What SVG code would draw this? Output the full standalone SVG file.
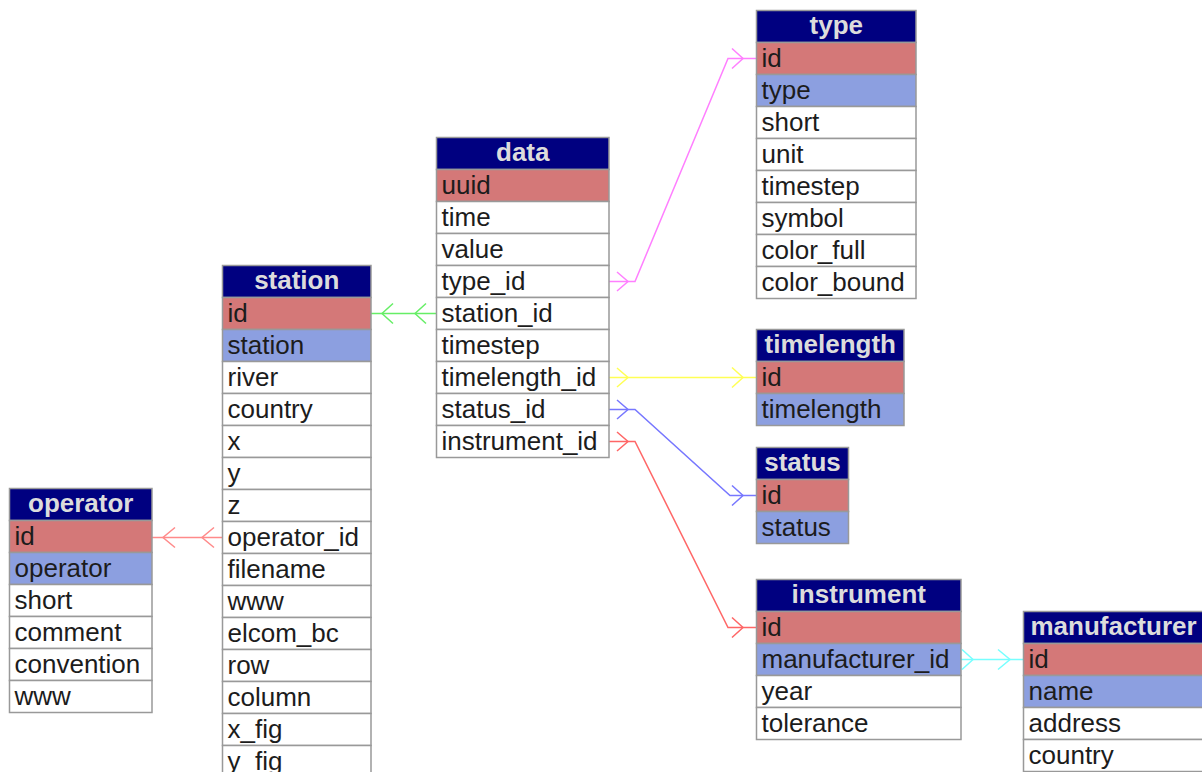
<svg xmlns="http://www.w3.org/2000/svg" width="1202" height="772" viewBox="0 0 1202 772">
<style>
rect{stroke:#999;stroke-width:1.5}
.hd{fill:#000080}
.pk{fill:#d47878}
.uk{fill:#8c9fe0}
.rw{fill:#ffffff}
text{font-family:"Liberation Sans",Arial,Helvetica,sans-serif;font-size:26px}
.ht{font-weight:bold;fill:#dcdcdc;text-anchor:middle}
.t{fill:#1c1c1c}
.c{fill:none;stroke-width:1.5}
</style>
<rect x="0" y="0" width="1202" height="772" style="fill:#ffffff;stroke:none"/>
<g id="connectors">
  <g class="c" stroke="#ff7fff">
    <path d="M609,281.5 H635 L728,58.5 H756"/>
    <path d="M617,272 L628,281.5 L617,291"/>
    <path d="M732,48.5 L743,58.5 L732,68.5"/>
  </g>
  <g class="c" stroke="#66ee66">
    <path d="M371,313.5 H436"/>
    <path d="M393,303.5 L382,313.5 L393,323.5"/>
    <path d="M426,303.5 L415,313.5 L426,323.5"/>
  </g>
  <g class="c" stroke="#ffff55">
    <path d="M609,377.5 H756"/>
    <path d="M617,368 L628,377.5 L617,387"/>
    <path d="M732,367.5 L743,377.5 L732,387.5"/>
  </g>
  <g class="c" stroke="#7777ff">
    <path d="M609,409.5 H635 L730,495.5 H756"/>
    <path d="M617,400 L628,409.5 L617,419"/>
    <path d="M732,485.5 L743,495.5 L732,505.5"/>
  </g>
  <g class="c" stroke="#ff6666">
    <path d="M609,441.5 H635 L728,627.5 H756"/>
    <path d="M617,432 L628,441.5 L617,451"/>
    <path d="M732,617.5 L743,627.5 L732,637.5"/>
  </g>
  <g class="c" stroke="#ff8a8a">
    <path d="M152,537.5 H222"/>
    <path d="M175,527.5 L163,537.5 L175,547.5"/>
    <path d="M214,527.5 L202,537.5 L214,547.5"/>
  </g>
  <g class="c" stroke="#77ffff">
    <path d="M961,659.5 H1023"/>
    <path d="M962,649.5 L973,659.5 L962,669.5"/>
    <path d="M998,649.5 L1010,659.5 L998,669.5"/>
  </g>
</g>

<g id="operator">
  <rect class="hd" x="9.5" y="488.5" width="142.5" height="32"/>
  <text class="ht" x="80.75" y="511.5">operator</text>
  <rect class="pk" x="9.5" y="520.5" width="142.5" height="32"/>
  <text class="t" x="14.5" y="545">id</text>
  <rect class="uk" x="9.5" y="552.5" width="142.5" height="32"/>
  <text class="t" x="14.5" y="577">operator</text>
  <rect class="rw" x="9.5" y="584.5" width="142.5" height="32"/>
  <text class="t" x="14.5" y="609">short</text>
  <rect class="rw" x="9.5" y="616.5" width="142.5" height="32"/>
  <text class="t" x="14.5" y="641">comment</text>
  <rect class="rw" x="9.5" y="648.5" width="142.5" height="32"/>
  <text class="t" x="14.5" y="673">convention</text>
  <rect class="rw" x="9.5" y="680.5" width="142.5" height="32"/>
  <text class="t" x="14.5" y="705">www</text>
</g>

<g id="station">
  <rect class="hd" x="222.5" y="265.5" width="148.5" height="32"/>
  <text class="ht" x="296.75" y="288.5">station</text>
  <rect class="pk" x="222.5" y="297.5" width="148.5" height="32"/>
  <text class="t" x="227.5" y="322">id</text>
  <rect class="uk" x="222.5" y="329.5" width="148.5" height="32"/>
  <text class="t" x="227.5" y="354">station</text>
  <rect class="rw" x="222.5" y="361.5" width="148.5" height="32"/>
  <text class="t" x="227.5" y="386">river</text>
  <rect class="rw" x="222.5" y="393.5" width="148.5" height="32"/>
  <text class="t" x="227.5" y="418">country</text>
  <rect class="rw" x="222.5" y="425.5" width="148.5" height="32"/>
  <text class="t" x="227.5" y="450">x</text>
  <rect class="rw" x="222.5" y="457.5" width="148.5" height="32"/>
  <text class="t" x="227.5" y="482">y</text>
  <rect class="rw" x="222.5" y="489.5" width="148.5" height="32"/>
  <text class="t" x="227.5" y="514">z</text>
  <rect class="rw" x="222.5" y="521.5" width="148.5" height="32"/>
  <text class="t" x="227.5" y="546">operator_id</text>
  <rect class="rw" x="222.5" y="553.5" width="148.5" height="32"/>
  <text class="t" x="227.5" y="578">filename</text>
  <rect class="rw" x="222.5" y="585.5" width="148.5" height="32"/>
  <text class="t" x="227.5" y="610">www</text>
  <rect class="rw" x="222.5" y="617.5" width="148.5" height="32"/>
  <text class="t" x="227.5" y="642">elcom_bc</text>
  <rect class="rw" x="222.5" y="649.5" width="148.5" height="32"/>
  <text class="t" x="227.5" y="674">row</text>
  <rect class="rw" x="222.5" y="681.5" width="148.5" height="32"/>
  <text class="t" x="227.5" y="706">column</text>
  <rect class="rw" x="222.5" y="713.5" width="148.5" height="32"/>
  <text class="t" x="227.5" y="738">x_fig</text>
  <rect class="rw" x="222.5" y="745.5" width="148.5" height="32"/>
  <text class="t" x="227.5" y="770">y_fig</text>
</g>

<g id="data">
  <rect class="hd" x="436.5" y="137.5" width="172.5" height="32"/>
  <text class="ht" x="522.75" y="160.5">data</text>
  <rect class="pk" x="436.5" y="169.5" width="172.5" height="32"/>
  <text class="t" x="441.5" y="194">uuid</text>
  <rect class="rw" x="436.5" y="201.5" width="172.5" height="32"/>
  <text class="t" x="441.5" y="226">time</text>
  <rect class="rw" x="436.5" y="233.5" width="172.5" height="32"/>
  <text class="t" x="441.5" y="258">value</text>
  <rect class="rw" x="436.5" y="265.5" width="172.5" height="32"/>
  <text class="t" x="441.5" y="290">type_id</text>
  <rect class="rw" x="436.5" y="297.5" width="172.5" height="32"/>
  <text class="t" x="441.5" y="322">station_id</text>
  <rect class="rw" x="436.5" y="329.5" width="172.5" height="32"/>
  <text class="t" x="441.5" y="354">timestep</text>
  <rect class="rw" x="436.5" y="361.5" width="172.5" height="32"/>
  <text class="t" x="441.5" y="386">timelength_id</text>
  <rect class="rw" x="436.5" y="393.5" width="172.5" height="32"/>
  <text class="t" x="441.5" y="418">status_id</text>
  <rect class="rw" x="436.5" y="425.5" width="172.5" height="32"/>
  <text class="t" x="441.5" y="450">instrument_id</text>
</g>

<g id="type">
  <rect class="hd" x="756.5" y="10.5" width="159.5" height="32"/>
  <text class="ht" x="836.25" y="33.5">type</text>
  <rect class="pk" x="756.5" y="42.5" width="159.5" height="32"/>
  <text class="t" x="761.5" y="67">id</text>
  <rect class="uk" x="756.5" y="74.5" width="159.5" height="32"/>
  <text class="t" x="761.5" y="99">type</text>
  <rect class="rw" x="756.5" y="106.5" width="159.5" height="32"/>
  <text class="t" x="761.5" y="131">short</text>
  <rect class="rw" x="756.5" y="138.5" width="159.5" height="32"/>
  <text class="t" x="761.5" y="163">unit</text>
  <rect class="rw" x="756.5" y="170.5" width="159.5" height="32"/>
  <text class="t" x="761.5" y="195">timestep</text>
  <rect class="rw" x="756.5" y="202.5" width="159.5" height="32"/>
  <text class="t" x="761.5" y="227">symbol</text>
  <rect class="rw" x="756.5" y="234.5" width="159.5" height="32"/>
  <text class="t" x="761.5" y="259">color_full</text>
  <rect class="rw" x="756.5" y="266.5" width="159.5" height="32"/>
  <text class="t" x="761.5" y="291">color_bound</text>
</g>

<g id="timelength">
  <rect class="hd" x="756.5" y="329.5" width="147.5" height="32"/>
  <text class="ht" x="830.25" y="352.5">timelength</text>
  <rect class="pk" x="756.5" y="361.5" width="147.5" height="32"/>
  <text class="t" x="761.5" y="386">id</text>
  <rect class="uk" x="756.5" y="393.5" width="147.5" height="32"/>
  <text class="t" x="761.5" y="418">timelength</text>
</g>

<g id="status">
  <rect class="hd" x="756.5" y="447.5" width="92" height="32"/>
  <text class="ht" x="802.5" y="470.5">status</text>
  <rect class="pk" x="756.5" y="479.5" width="92" height="32"/>
  <text class="t" x="761.5" y="504">id</text>
  <rect class="uk" x="756.5" y="511.5" width="92" height="32"/>
  <text class="t" x="761.5" y="536">status</text>
</g>

<g id="instrument">
  <rect class="hd" x="756.5" y="579.5" width="204.5" height="32"/>
  <text class="ht" x="858.75" y="602.5">instrument</text>
  <rect class="pk" x="756.5" y="611.5" width="204.5" height="32"/>
  <text class="t" x="761.5" y="636">id</text>
  <rect class="uk" x="756.5" y="643.5" width="204.5" height="32"/>
  <text class="t" x="761.5" y="668">manufacturer_id</text>
  <rect class="rw" x="756.5" y="675.5" width="204.5" height="32"/>
  <text class="t" x="761.5" y="700">year</text>
  <rect class="rw" x="756.5" y="707.5" width="204.5" height="32"/>
  <text class="t" x="761.5" y="732">tolerance</text>
</g>

<g id="manufacturer">
  <rect class="hd" x="1023.5" y="611.5" width="180" height="32"/>
  <text class="ht" x="1113.5" y="634.5">manufacturer</text>
  <rect class="pk" x="1023.5" y="643.5" width="180" height="32"/>
  <text class="t" x="1028.5" y="668">id</text>
  <rect class="uk" x="1023.5" y="675.5" width="180" height="32"/>
  <text class="t" x="1028.5" y="700">name</text>
  <rect class="rw" x="1023.5" y="707.5" width="180" height="32"/>
  <text class="t" x="1028.5" y="732">address</text>
  <rect class="rw" x="1023.5" y="739.5" width="180" height="32"/>
  <text class="t" x="1028.5" y="764">country</text>
</g>
</svg>
